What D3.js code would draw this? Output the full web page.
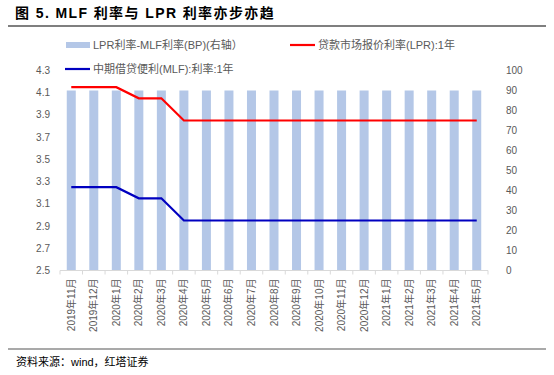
<!DOCTYPE html>
<html><head><meta charset="utf-8">
<script src="https://cdn.jsdelivr.net/npm/d3@7/dist/d3.min.js"></script>
<style>
body{margin:0;background:#fff;}
text{font-family:"Liberation Sans","Noto Sans CJK SC",sans-serif;}
</style></head>
<body><svg id="c" width="554" height="375"></svg>
<script>
const categories = ["2019年11月","2019年12月","2020年1月","2020年2月","2020年3月","2020年4月","2020年5月","2020年6月","2020年7月","2020年8月","2020年9月","2020年10月","2020年11月","2020年12月","2021年1月","2021年2月","2021年3月","2021年4月","2021年5月"];
const lpr = [4.15,4.15,4.15,4.05,4.05,3.85,3.85,3.85,3.85,3.85,3.85,3.85,3.85,3.85,3.85,3.85,3.85,3.85,3.85];
const mlf = [3.25,3.25,3.25,3.15,3.15,2.95,2.95,2.95,2.95,2.95,2.95,2.95,2.95,2.95,2.95,2.95,2.95,2.95,2.95];
const spread = [90,90,90,90,90,90,90,90,90,90,90,90,90,90,90,90,90,90,90];
const leftTicks = [2.5,2.7,2.9,3.1,3.3,3.5,3.7,3.9,4.1,4.3];
const rightTicks = [0,10,20,30,40,50,60,70,80,90,100];

const svg = d3.select("#c");
const L=60, R=488, T=70.5, B=270.5;
const xb = d3.scaleBand().domain(categories).range([L,R]);
const yl = d3.scaleLinear().domain([2.5,4.3]).range([B,T]);
const yr = d3.scaleLinear().domain([0,100]).range([B,T]);
const grey="#595959";

// title
svg.append("text").attr("x",15).attr("y",18).attr("font-size",14).attr("font-weight","bold").attr("fill","#000")
  .attr("letter-spacing",1.4)
  .attr("font-family","'Noto Sans CJK SC','Liberation Sans',sans-serif").text("图 5. MLF 利率与 LPR 利率亦步亦趋");
svg.append("line").attr("x1",8).attr("x2",546).attr("y1",26).attr("y2",26).attr("stroke","#555").attr("stroke-width",1.5);

// bars
svg.selectAll("rect.bar").data(spread).join("rect").attr("class","bar")
  .attr("x",(d,i)=>xb(categories[i])+xb.bandwidth()/2-4.5).attr("width",9)
  .attr("y",d=>yr(d)).attr("height",d=>B-yr(d)).attr("fill","#b4c7e7");

// lines
const line = ys => d3.line().x((d,i)=>xb(categories[i])+xb.bandwidth()/2).y(d=>ys(d));
svg.append("path").datum(lpr).attr("d",line(yl)).attr("fill","none").attr("stroke","#ff0000").attr("stroke-width",2.2);
svg.append("path").datum(mlf).attr("d",line(yl)).attr("fill","none").attr("stroke","#0000c0").attr("stroke-width",2.2);

// x axis
svg.append("line").attr("x1",L).attr("x2",R).attr("y1",B).attr("y2",B).attr("stroke","#d9d9d9");
const edges = categories.map(c=>xb(c)).concat([R]);
svg.selectAll("line.tk").data(edges).join("line").attr("class","tk")
  .attr("x1",d=>d).attr("x2",d=>d).attr("y1",B).attr("y2",B+4).attr("stroke","#d9d9d9");
svg.selectAll("text.xl").data(categories).join("text").attr("class","xl")
  .attr("transform",d=>`translate(${xb(d)+xb.bandwidth()/2+3.5},${B+8}) rotate(-90)`)
  .attr("text-anchor","end").attr("font-size",10).attr("fill",grey)
  .attr("font-family","'Noto Sans CJK SC',sans-serif").text(d=>d);

// left axis labels
svg.selectAll("text.yl").data(leftTicks).join("text").attr("class","yl")
  .attr("x",50).attr("y",d=>yl(d)+3.5).attr("text-anchor","end").attr("font-size",10).attr("fill",grey)
  .text(d=>d.toFixed(1));
// right axis labels
svg.selectAll("text.yr").data(rightTicks).join("text").attr("class","yr")
  .attr("x",506).attr("y",d=>yr(d)+3.5).attr("text-anchor","start").attr("font-size",10).attr("fill",grey)
  .text(d=>d);

// legend
const lg = svg.append("g").attr("font-size",11).attr("fill",grey).attr("font-family","'Noto Sans CJK SC',sans-serif");
lg.append("rect").attr("x",66).attr("y",42).attr("width",24).attr("height",6).attr("fill","#b4c7e7");
lg.append("text").attr("x",93).attr("y",49).attr("fill",grey).text("LPR利率-MLF利率(BP)(右轴）");
lg.append("line").attr("x1",290).attr("x2",315).attr("y1",45).attr("y2",45).attr("stroke","#ff0000").attr("stroke-width",2.2);
lg.append("text").attr("x",318).attr("y",49).attr("fill",grey).text("贷款市场报价利率(LPR):1年");
lg.append("line").attr("x1",65).attr("x2",90).attr("y1",69).attr("y2",69).attr("stroke","#0000c0").attr("stroke-width",2.2);
lg.append("text").attr("x",93).attr("y",73).attr("fill",grey).text("中期借贷便利(MLF):利率:1年");

// footer
svg.append("line").attr("x1",8).attr("x2",546).attr("y1",349).attr("y2",349).attr("stroke","#555").attr("stroke-width",1.2);
svg.append("text").attr("x",16).attr("y",366).attr("font-size",11).attr("fill","#000")
  .attr("font-family","'Noto Sans CJK SC',sans-serif").text("资料来源：wind，红塔证券");
</script></body></html>
